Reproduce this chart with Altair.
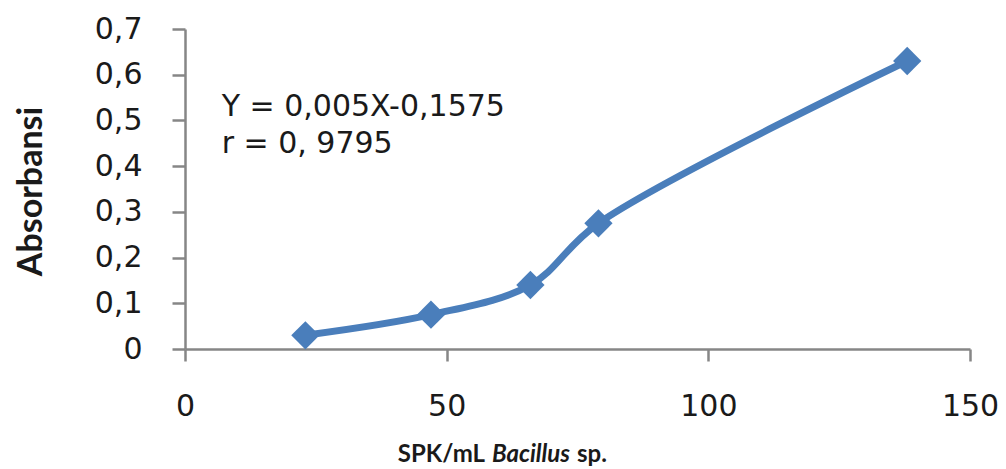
import altair as alt
import pandas as pd

# Data
spk = [23, 47, 66, 79, 138]
absorbansi = [0.03, 0.075, 0.14, 0.275, 0.63]

x_ticks = [0, 50, 100, 150]
y_ticks = [0, 0.1, 0.2, 0.3, 0.4, 0.5, 0.6, 0.7]

equation_lines = ["Y = 0,005X-0,1575", "r = 0, 9795"]

df = pd.DataFrame({"spk": spk, "abs": absorbansi})

BLUE = "#4A7EBB"
GREY = "#868686"
TXT = "#1a1a1a"

x_enc = alt.X(
    "spk:Q",
    scale=alt.Scale(domain=[0, 150], nice=False, zero=False),
    axis=alt.Axis(
        values=x_ticks, title=None, grid=False,
        domainColor=GREY, domainWidth=2.5, tickColor=GREY, tickWidth=2.5,
        tickSize=12, labelFont="DejaVu Sans", labelFontSize=30,
        labelColor=TXT, labelPadding=30, labelFlush=False,
    ),
)
y_enc = alt.Y(
    "abs:Q",
    scale=alt.Scale(domain=[0, 0.7], nice=False),
    axis=alt.Axis(
        values=y_ticks, grid=False, title="Absorbansi",
        titleFont="Lato", titleFontSize=34, titleFontWeight="bold",
        titleColor=TXT, titleX=-144, titleY=162, titleAlign="center",
        titleBaseline="alphabetic", titleAngle=270,
        labelExpr="datum.value == 0 ? '0' : replace(format(datum.value, '.1f'), '.', ',')",
        domainColor=GREY, domainWidth=2.5, tickColor=GREY, tickWidth=2.5,
        tickSize=13, labelFont="DejaVu Sans", labelFontSize=30,
        labelColor=TXT, labelPadding=30,
    ),
)

line = alt.Chart(df).mark_line(
    color=BLUE, strokeWidth=7, interpolate="catmull-rom"
).encode(x=x_enc, y=y_enc)

points = alt.Chart(df).mark_point(
    shape="diamond", filled=True, color=BLUE, size=800, opacity=1
).encode(x="spk:Q", y="abs:Q")

eq = alt.Chart(pd.DataFrame({"x": [7.0], "y": [0.51]})).mark_text(
    align="left", baseline="alphabetic", font="DejaVu Sans",
    fontSize=30, color=TXT, lineHeight=37, text=equation_lines,
).encode(x="x:Q", y="y:Q")

t1 = alt.Chart(pd.DataFrame({"t": ["SPK/mL"]})).mark_text(
    align="right", baseline="alphabetic", font="Lato", fontSize=24,
    fontWeight="bold", color=TXT,
).encode(text="t:N", x=alt.value(300), y=alt.value(433))
t2 = alt.Chart(pd.DataFrame({"t": ["Bacillus"]})).mark_text(
    align="left", baseline="alphabetic", font="Lato", fontSize=24,
    fontWeight="bold", fontStyle="italic", color=TXT,
).encode(text="t:N", x=alt.value(307), y=alt.value(433))
t3 = alt.Chart(pd.DataFrame({"t": ["sp."]})).mark_text(
    align="left", baseline="alphabetic", font="Lato", fontSize=24,
    fontWeight="bold", color=TXT,
).encode(text="t:N", x=alt.value(392), y=alt.value(433))

chart = alt.layer(line, points, eq, t1, t2, t3).properties(
    width=785, height=320,
    padding={"left": 177, "top": 21, "right": 28, "bottom": 119},
    autosize=alt.AutoSizeParams(type="none"),
    background="white",
).configure_view(stroke=None)

chart.save("out.html", embed_options={"renderer": "svg", "actions": False})
